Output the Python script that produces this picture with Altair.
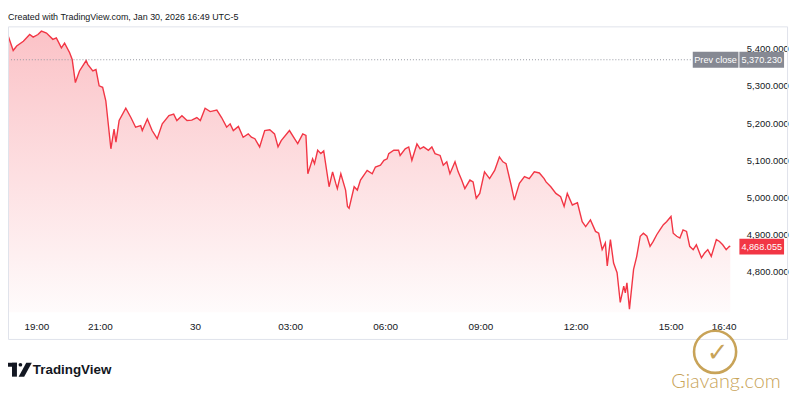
import altair as alt
import pandas as pd

# ---- data (hours after 18:00 on Jan 29, price) ----
hours = [0.08, 0.27, 0.38, 0.59, 0.79, 0.90, 1.05, 1.16, 1.32, 1.52, 1.63, 1.79, 1.89, 2.05, 2.13,
         2.23, 2.36, 2.57, 2.62, 2.78, 2.88, 2.98, 3.09, 3.19, 3.35, 3.45, 3.51, 3.61, 3.82, 3.98,
         4.13, 4.29, 4.34, 4.50, 4.65, 4.81, 4.97, 5.18, 5.33, 5.43, 5.59, 5.75, 5.90, 6.06, 6.17,
         6.32, 6.48, 6.69, 6.84, 7.00, 7.11, 7.21, 7.37, 7.52, 7.68, 7.78, 7.89, 8.04, 8.20, 8.36,
         8.51, 8.62, 8.72, 8.98, 9.14, 9.24, 9.40, 9.50, 9.56, 9.71, 9.77, 9.87, 9.97, 10.06, 10.23,
         10.34, 10.44, 10.49, 10.60, 10.75, 10.81, 10.86, 11.02, 11.12, 11.22, 11.43, 11.59, 11.69,
         11.85, 11.96, 12.06, 12.11, 12.27, 12.42, 12.47, 12.63, 12.74, 12.84, 13.00, 13.10, 13.21,
         13.36, 13.47, 13.57, 13.73, 13.83, 13.94, 14.04, 14.20, 14.30, 14.41, 14.51, 14.67, 14.77,
         14.87, 14.98, 15.13, 15.29, 15.45, 15.60, 15.71, 15.81, 15.97, 16.07, 16.23, 16.39, 16.54,
         16.70, 16.86, 17.01, 17.07, 17.22, 17.38, 17.53, 17.64, 17.74, 17.90, 18.06, 18.21, 18.32,
         18.47, 18.63, 18.73, 18.84, 18.94, 19.00, 19.10, 19.20, 19.31, 19.41, 19.52, 19.57, 19.62,
         19.70, 19.83, 19.93, 20.04, 20.14, 20.25, 20.35, 20.45, 20.56, 20.66, 20.77, 20.87, 21.01,
         21.08, 21.19, 21.29, 21.39, 21.50, 21.60, 21.71, 21.81, 21.97, 22.07, 22.17, 22.28, 22.44,
         22.54, 22.64, 22.75, 22.85, 22.88]
prices = [5442, 5395, 5407, 5420, 5438, 5431, 5438, 5447, 5442, 5425, 5429, 5402, 5415, 5389, 5371,
          5309, 5340, 5368, 5358, 5340, 5344, 5300, 5296, 5260, 5131, 5184, 5149, 5207, 5240, 5215,
          5189, 5193, 5180, 5211, 5180, 5158, 5198, 5220, 5224, 5207, 5220, 5207, 5208, 5215, 5207,
          5240, 5231, 5235, 5215, 5189, 5198, 5180, 5191, 5162, 5171, 5162, 5158, 5136, 5180, 5182,
          5171, 5136, 5153, 5180, 5158, 5145, 5171, 5167, 5064, 5104, 5091, 5127, 5118, 5125, 5029,
          5069, 5038, 5024, 5064, 5020, 4976, 4971, 5029, 5020, 5047, 5073, 5064, 5082,
          5087, 5100, 5104, 5118, 5127, 5127, 5113, 5131, 5136, 5100, 5144, 5131, 5136,
          5127, 5136, 5118, 5113, 5087, 5096, 5064, 5096, 5069, 5047, 5024, 5047, 5042,
          4998, 5011, 5069, 5051, 5073, 5109, 5096, 5091, 5033, 4993, 5038, 5056, 5051,
          5069, 5066, 5051, 5042, 5029, 5011, 5002, 4976, 5011, 4980, 4986, 4935, 4922,
          4940, 4909, 4904, 4860, 4878, 4816, 4887, 4824, 4798, 4718, 4762, 4744, 4771,
          4700, 4807, 4842, 4896, 4904, 4896, 4869, 4882, 4900, 4913, 4927, 4935, 4949,
          4904, 4896, 4891, 4913, 4909, 4869, 4860, 4873, 4838, 4851, 4860, 4842, 4887,
          4882, 4873, 4860, 4869, 4868.055]

tick_hours = [1, 3, 6, 9, 12, 15, 18, 21, 22.6667]
tick_labels = ["19:00", "21:00", "30", "03:00", "06:00", "09:00", "12:00", "15:00", "16:40"]
price_ticks = [4800, 4900, 5000, 5100, 5200, 5300, 5400]
prev_close = 5370.23
last_price = 4868.055
header = "Created with TradingView.com, Jan 30, 2026 16:49 UTC-5"

df = pd.DataFrame({"h": hours, "p": prices})

W, H = 738, 287
xdom = [0.106, 23.198]
ydom = [4692.0, 5457.33]
ppu = H / (ydom[1] - ydom[0])  # pixels per price unit

FONT = "Liberation Sans, Arial, sans-serif"
RED = "#f23645"
TXT = "#131722"

label_expr = " : ".join(
    f"abs(datum.value - {t}) < 0.01 ? '{l}'" for t, l in zip(tick_hours, tick_labels)
) + " : ''"

xs = alt.X("h:Q", scale=alt.Scale(domain=xdom, nice=False, zero=False),
           axis=alt.Axis(values=tick_hours, labelExpr=label_expr, title=None, domain=False,
                         ticks=False, grid=False, labelFont=FONT, labelFontSize=10,
                         labelColor=TXT, labelPadding=9, labelFlush=False, labelOverlap=False))
ys = alt.Y("p:Q", scale=alt.Scale(domain=ydom, nice=False, zero=False),
           axis=alt.Axis(orient="right", values=price_ticks, format=",.3f", title=None,
                         domain=False, ticks=False, grid=False, labelFont=FONT,
                         labelFontSize=9.5, labelColor=TXT, labelAlign="left",
                         labelPadding=6, labelFlush=False, labelOverlap=False))

base = alt.Chart(df)
area = base.mark_area(
    color=alt.Gradient(gradient="linear",
                       stops=[alt.GradientStop(color="rgba(242,54,69,0.30)", offset=0),
                              alt.GradientStop(color="rgba(242,54,69,0.02)", offset=1)],
                       x1=1, x2=1, y1=0, y2=1)
).encode(x=xs, y=ys, y2=alt.datum(ydom[0]))
line = base.mark_line(color=RED, strokeWidth=1.4).encode(x="h:Q", y="p:Q")

one = pd.DataFrame({"v": [0]})
prev_rule = alt.Chart(one).mark_rule(color="#9598a1", strokeDash=[1, 2], strokeWidth=1).encode(
    y=alt.datum(prev_close), x=alt.value(0), x2=alt.value(690))

half = 8 / ppu
tags = pd.DataFrame({
    "x0": [690, 737, 737],
    "x1": [736, 782, 782],
    "c": [prev_close, prev_close, last_price],
    "fill": ["#868993", "#868993", RED],
    "label": ["Prev close", f"{prev_close:,.3f}", f"{last_price:,.3f}"],
})
tags["lo"] = tags["c"] - half
tags["hi"] = tags["c"] + half
tags["xm"] = (tags["x0"] + tags["x1"]) / 2
tag_rect = alt.Chart(tags).mark_rect().encode(
    x=alt.X("x0:Q", scale=None), x2="x1:Q",
    y=alt.Y("lo:Q"), y2="hi:Q",
    color=alt.Color("fill:N", scale=None))
tag_text = alt.Chart(tags).mark_text(color="white", font=FONT, fontSize=9.2,
                                     align="center", baseline="middle").encode(
    x=alt.X("xm:Q", scale=None), y=alt.Y("c:Q"), text="label:N")

frame = alt.Chart(one).mark_rect(fill=None, stroke="#e0e3eb", strokeWidth=1).encode(
    x=alt.value(0.5), x2=alt.value(785.5), y=alt.value(-0.5), y2=alt.value(314.5))

head = alt.Chart(pd.DataFrame({"t": [header]})).mark_text(
    align="left", baseline="middle", font=FONT, fontSize=9, color=TXT
).encode(x=alt.value(0), y=alt.value(-10.5), text="t:N")

# TradingView logo
tv_text = alt.Chart(pd.DataFrame({"t": ["TradingView"]})).mark_text(
    align="left", baseline="middle", font=FONT, fontSize=13.5, fontWeight="bold", color=TXT
).encode(x=alt.value(25), y=alt.value(345), text="t:N")
tv_bar1 = alt.Chart(one).mark_rect(color=TXT).encode(
    x=alt.value(0), x2=alt.value(9), y=alt.value(338), y2=alt.value(342))
tv_bar2 = alt.Chart(one).mark_rect(color=TXT).encode(
    x=alt.value(4), x2=alt.value(9), y=alt.value(338), y2=alt.value(352))
tv_dot = alt.Chart(one).mark_point(shape="circle", filled=True, opacity=1, size=14, color=TXT).encode(
    x=alt.value(12.5), y=alt.value(340))
tv_slash = alt.Chart(one).mark_point(shape="M0.2,-1L1,-1L-0.1,1L-0.9,1Z", filled=True, opacity=1,
                                     size=196, color=TXT).encode(x=alt.value(17), y=alt.value(345))

# Giavang watermark
gold = "#c8a358"
gv_ring = alt.Chart(one).mark_point(shape="circle", filled=False, size=1800, strokeWidth=2.6,
                                    color=gold, opacity=1).encode(x=alt.value(712.5), y=alt.value(327))
gv_check = alt.Chart(pd.DataFrame({"t": ["\u2713"]})).mark_text(
    fontSize=26, color=gold, font="DejaVu Sans", baseline="middle", align="center"
).encode(x=alt.value(715), y=alt.value(328), text="t:N")
gv_text = alt.Chart(pd.DataFrame({"t": ["Giavang.com"]})).mark_text(
    fontSize=20, color=gold, font="Lato", fontWeight=300, baseline="middle", align="center"
).encode(x=alt.value(723.5), y=alt.value(357.5), text="t:N")

chart = alt.layer(
    area, line, prev_rule, tag_rect, tag_text, frame, head,
    tv_text, tv_bar1, tv_bar2, tv_dot, tv_slash, gv_ring, gv_check, gv_text
).properties(
    width=W, height=H,
    autosize=alt.AutoSizeParams(type="none"),
    padding={"left": 0, "top": 18, "right": 52, "bottom": 81},
    background="white",
).configure_view(stroke=None)

chart.save("out.html", embed_options={"renderer": "svg", "actions": False})
